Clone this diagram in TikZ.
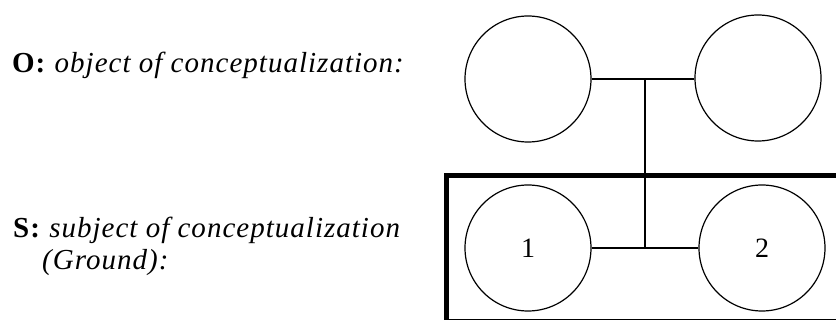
\documentclass[tikz,border=0pt]{standalone}
\usepackage{fontspec}
\setmainfont{Liberation Serif}
\newfontfamily\spacedserif[LetterSpace=3.5]{Liberation Serif}
\usetikzlibrary{calc}
\begin{document}
\begin{tikzpicture}[x=1pt,y=-1pt,
  role/.style={circle,draw,line width=1.2pt,minimum size=126pt,inner sep=0pt,font=\fontsize{28}{30}\selectfont},
  link/.style={line width=1.3pt},
  label/.style={anchor=base west,inner sep=0pt,font=\spacedserif\fontsize{29}{32}\selectfont},
  ground/.style={line width=5pt}]
  \useasboundingbox (0,0) rectangle (836,320);
  % text labels on the left
  \node[label] (ot) at (12,72.5) {\textbf{O:} \textit{object of conceptualization:}};
  \node[label] (st) at (13,238) {\textbf{S:} \textit{subject of conceptualization}};
  \node[label] (gt) at (42,270) {\textit{(Ground):}};
  % ground frame, running off the right and bottom edges
  \begin{scope}
    \clip (0,0) rectangle (836,320);
    \draw[ground] (446.5,175.5) rectangle (850,322);
  \end{scope}
  % objects and subjects
  \node[role] (o1) at (528,79) {};
  \node[role] (o2) at (758,78) {};
  \node[role] (s1) at (528,248) {1};
  \node[role] (s2) at (762,248) {2};
  % connectors
  \draw[link] (o1.east) -- (o2.west |- o1.east) coordinate (oj2);
  \draw[link] (s1.east) -- (s2.west |- s1.east) coordinate (sj2);
  \coordinate (top) at ($(o1.east)!0.52!(oj2)$);
  \draw[link] (top) -- (top |- s1.east);
\end{tikzpicture}
\end{document}
